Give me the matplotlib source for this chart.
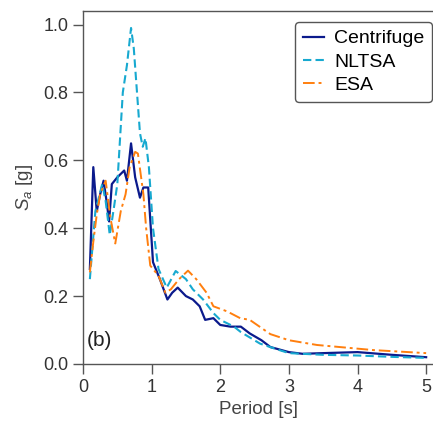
import matplotlib
matplotlib.use("Agg")
import matplotlib.pyplot as plt

plt.rcParams["font.family"] = ["Liberation Sans", "DejaVu Sans"]
plt.rcParams["mathtext.fontset"] = "custom"
plt.rcParams["mathtext.it"] = "Liberation Sans:italic"
plt.rcParams["mathtext.rm"] = "Liberation Sans"

# Centrifuge (solid)
cent_T = [0.10, 0.15, 0.20, 0.25, 0.30, 0.35, 0.38, 0.42, 0.50, 0.60, 0.64, 0.70,
          0.76, 0.83, 0.88, 0.95, 1.02, 1.12, 1.23, 1.30, 1.38, 1.50, 1.60, 1.70,
          1.78, 1.90, 2.00, 2.15, 2.30, 2.43, 2.60, 2.73, 3.00, 3.20, 3.50, 4.00,
          4.50, 5.00]
cent_Sa = [0.28, 0.58, 0.45, 0.50, 0.54, 0.47, 0.42, 0.53, 0.55, 0.57, 0.54, 0.65,
           0.55, 0.49, 0.52, 0.52, 0.30, 0.25, 0.19, 0.21, 0.225, 0.20, 0.19, 0.17,
           0.13, 0.135, 0.115, 0.11, 0.11, 0.09, 0.07, 0.05, 0.035, 0.03, 0.032, 0.035,
           0.027, 0.02]

# NLTSA (dashed)
nltsa_T = [0.10, 0.18, 0.28, 0.33, 0.39, 0.45, 0.50, 0.58, 0.64, 0.70, 0.74, 0.83,
           0.87, 0.91, 0.96, 1.02, 1.10, 1.22, 1.35, 1.50, 1.60, 1.75, 1.90, 2.00,
           2.20, 2.30, 2.58, 2.80, 3.00, 3.50, 4.00, 4.50, 5.00]
nltsa_Sa = [0.25, 0.45, 0.53, 0.48, 0.38, 0.46, 0.53, 0.80, 0.88, 0.99, 0.93, 0.68,
            0.64, 0.665, 0.58, 0.40, 0.28, 0.225, 0.274, 0.25, 0.22, 0.19, 0.15, 0.13,
            0.11, 0.094, 0.06, 0.045, 0.032, 0.027, 0.025, 0.021, 0.018]

# ESA (dash-dot)
esa_T = [0.10, 0.15, 0.20, 0.25, 0.33, 0.40, 0.47, 0.55, 0.62, 0.68, 0.76, 0.80,
         0.88, 0.92, 0.98, 1.10, 1.20, 1.28, 1.40, 1.53, 1.65, 1.80, 1.90, 2.10,
         2.29, 2.43, 2.73, 3.00, 3.41, 4.23, 5.00]
esa_Sa = [0.27, 0.36, 0.44, 0.50, 0.54, 0.43, 0.355, 0.45, 0.50, 0.58, 0.625, 0.62,
          0.50, 0.40, 0.29, 0.26, 0.21, 0.22, 0.25, 0.275, 0.25, 0.21, 0.17, 0.155,
          0.135, 0.13, 0.088, 0.07, 0.056, 0.041, 0.032]

fig = plt.figure(figsize=(4.33, 4.23), dpi=100)
ax = fig.add_axes([0.1917, 0.1395, 0.8083, 0.8345])

ax.plot(cent_T, cent_Sa, color="#0b1a8c", lw=1.6, ls="-", label="Centrifuge")
ax.plot(nltsa_T, nltsa_Sa, color="#17a9d0", lw=1.5, ls=(0, (4, 2)), label="NLTSA")
ax.plot(esa_T, esa_Sa, color="#ff7f0e", lw=1.4, ls=(0, (6, 2, 1.5, 2)), label="ESA")

ax.set_xlim(0, 5.1)
ax.set_ylim(0, 1.04)
ax.set_xticks([0, 1, 2, 3, 4, 5])
ax.set_yticks([0.0, 0.2, 0.4, 0.6, 0.8, 1.0])
ax.set_yticklabels(["0.0", "0.2", "0.4", "0.6", "0.8", "1.0"])

for s in ["left", "bottom", "top"]:
    ax.spines[s].set_color("#555555")
    ax.spines[s].set_linewidth(1.0)
ax.spines["right"].set_visible(False)
ax.tick_params(direction="out", length=7, width=1.0, color="#555555",
               labelsize=13, labelcolor="#333333")

ax.set_xlabel("Period [s]", fontsize=13.5, color="#444444")
ax.set_ylabel("$S_a$ [g]", fontsize=13.5, color="#444444", labelpad=6)

ax.text(0.012, 0.05, "(b)", transform=ax.transAxes, fontsize=15, color="#222222")

leg = ax.legend(loc="upper right", fontsize=14, handlelength=1.1, handletextpad=0.5,
                borderpad=0.4, labelspacing=0.3, framealpha=1, borderaxespad=0,
                bbox_to_anchor=(0.997, 0.969))
leg.get_frame().set_edgecolor("#555555")
leg.get_frame().set_linewidth(1.0)

fig.savefig("out.png", dpi=100)
